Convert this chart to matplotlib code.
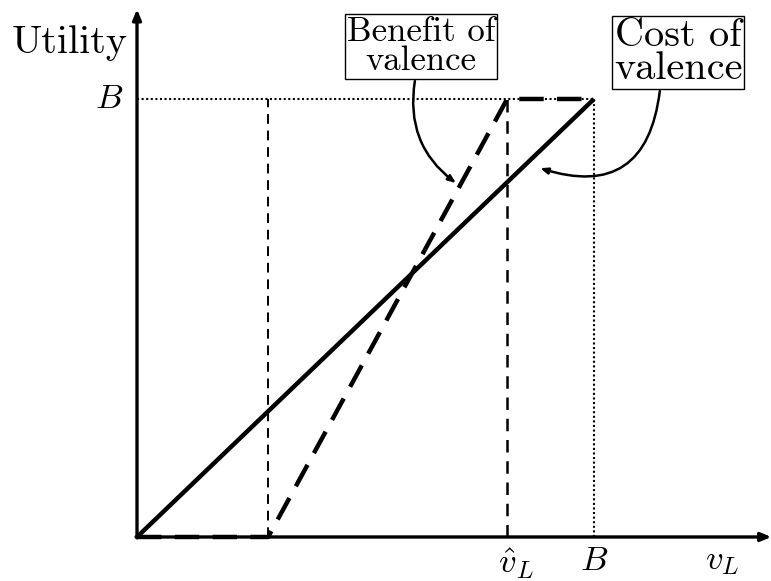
import matplotlib.pyplot as plt

plt.rcParams['font.family'] = 'serif'
plt.rcParams['font.serif'] = ['cmr10']
plt.rcParams['mathtext.fontset'] = 'cm'
plt.rcParams['axes.unicode_minus'] = False

# model values (B normalised to 1)
B = 1.0
v_hat = 0.81
v_low = 0.287

cost_x = [0, B]
cost_y = [0, B]
benefit_x = [0, v_low, v_hat, B]
benefit_y = [0, 0, B, B]

fig = plt.figure(figsize=(7.71, 5.81), dpi=100)
ax = fig.add_axes([0, 0, 1, 1])
ax.set_xlim(-0.2998, 1.3873)
ax.set_ylim(-0.1005, 1.226)
ax.axis('off')

# axes with arrows
ax.annotate('', xy=(0, 1.205), xytext=(0, -0.002),
            arrowprops=dict(arrowstyle='-|>,head_width=0.25,head_length=0.6', lw=2.4, color='black',
                            shrinkA=0, shrinkB=0))
ax.annotate('', xy=(1.388, 0), xytext=(-0.002, 0),
            arrowprops=dict(arrowstyle='-|>,head_width=0.25,head_length=0.6', lw=2.4, color='black',
                            shrinkA=0, shrinkB=0))

# guide lines
ax.plot([0, B], [B, B], color='black', lw=1.5, ls=(0, (1, 1.2)))
ax.plot([B, B], [0, B], color='black', lw=1.5, ls=(0, (1, 1.2)))
ax.plot([v_low, v_low], [0, B], color='black', lw=1.4, ls=(0, (5, 3.5)))
ax.plot([v_hat, v_hat], [0, B], color='black', lw=1.8, ls=(0, (5, 3.5)))

# curves
ax.plot(cost_x, cost_y, color='black', lw=3.2, solid_capstyle='butt')
ax.plot(benefit_x, benefit_y, color='black', lw=3.2, ls=(0, (5.5, 3)))

# labels
ax.text(-0.147, 1.128, 'Utility', fontsize=29, ha='center', va='center')
ax.text(-0.062, 1.0, r'$B$', fontsize=25, ha='center', va='center')
ax.text(v_hat + 0.02, -0.06, r'$\hat{v}_L$', fontsize=25, ha='center', va='center')
ax.text(B, -0.055, r'$B$', fontsize=25, ha='center', va='center')
ax.text(1.28, -0.055, r'$v_L$', fontsize=25, ha='center', va='center')

box = dict(boxstyle='square,pad=0.05', fc='white', ec='black', lw=1)
ax.text(0.621, 1.120, 'Benefit of\nvalence', fontsize=25, ha='center', va='center',
        linespacing=0.9, bbox=box)
ax.text(1.184, 1.107, 'Cost of\nvalence', fontsize=29, ha='center', va='center',
        linespacing=0.9, bbox=box)

# curved arrows
ax.annotate('', xy=(0.698, 0.808), xytext=(0.608, 1.041),
            arrowprops=dict(arrowstyle='-|>,head_width=0.18,head_length=0.45', lw=1.8, color='black',
                            connectionstyle='arc3,rad=0.3', shrinkA=0, shrinkB=0))
ax.annotate('', xy=(0.882, 0.842), xytext=(1.144, 1.018),
            arrowprops=dict(arrowstyle='-|>,head_width=0.18,head_length=0.45', lw=1.8, color='black',
                            connectionstyle='arc3,rad=-0.6', shrinkA=0, shrinkB=0))

plt.savefig('out.png', dpi=100)
